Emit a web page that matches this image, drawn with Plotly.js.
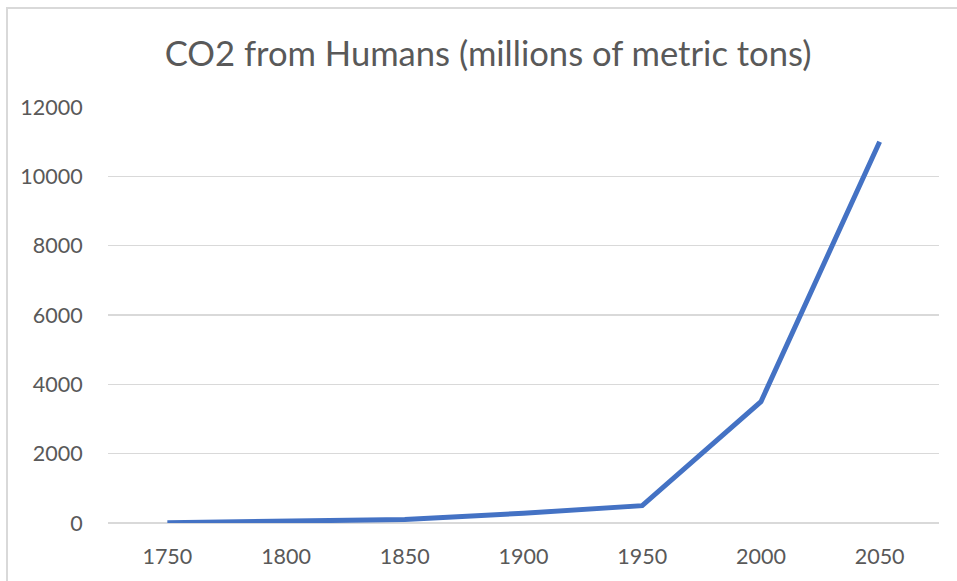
<!DOCTYPE html>
<html>
<head>
<meta charset="utf-8">
<script src="https://cdn.plot.ly/plotly-3.0.1.min.js"></script>
<style>
html,body{margin:0;padding:0;background:#fff;}
#wrap{position:relative;width:957px;height:581px;overflow:hidden;}
#chart{width:957px;height:581px;}
#frame{position:absolute;left:6px;top:7px;width:960px;height:590px;border-left:2px solid #d9d9d9;border-top:2px solid #d9d9d9;pointer-events:none;}
</style>
</head>
<body>
<div id="wrap"><div id="chart"></div><div id="frame"></div></div>
<script>
var years = ["1750", "1800", "1850", "1900", "1950", "2000", "2050"];
var co2 = [10, 45, 100, 280, 500, 3500, 11000];
var yTicks = [0, 2000, 4000, 6000, 8000, 10000, 12000];

var trace = {
  x: years,
  y: co2,
  type: 'scatter',
  mode: 'lines',
  line: {color: '#4472C4', width: 5},
  hoverinfo: 'x+y'
};

var layout = {
  width: 957,
  height: 581,
  margin: {l: 108, r: 18, t: 107, b: 58},
  paper_bgcolor: '#ffffff',
  plot_bgcolor: '#ffffff',
  showlegend: false,
  font: {family: 'Lato, "Open Sans", sans-serif', color: '#595959', size: 21.5},
  title: {
    text: 'CO2 from Humans (millions of metric tons)',
    font: {family: 'Lato, "Open Sans", sans-serif', size: 34.6, color: '#595959'},
    x: 0.51, xanchor: 'center',
    yref: 'container', y: 1 - 54/581, yanchor: 'middle'
  },
  xaxis: {
    type: 'category',
    range: [-0.5, 6.5],
    showgrid: false,
    zeroline: false,
    showline: false,
    ticks: 'outside', ticklen: 14, tickcolor: 'rgba(0,0,0,0)',
    tickfont: {size: 21.5, color: '#595959'}
  },
  yaxis: {
    range: [0, 12000],
    tickvals: yTicks,
    ticktext: yTicks.map(String),
    showgrid: true,
    gridcolor: '#d9d9d9',
    gridwidth: 1.5,
    zeroline: true,
    zerolinecolor: '#d9d9d9',
    zerolinewidth: 1.5,
    showline: false,
    ticks: 'outside', ticklen: 20, tickcolor: 'rgba(0,0,0,0)',
    tickfont: {size: 21.5, color: '#595959'}
  }
};

Plotly.newPlot('chart', [trace], layout, {displayModeBar: false, staticPlot: true});
</script>
</body>
</html>
